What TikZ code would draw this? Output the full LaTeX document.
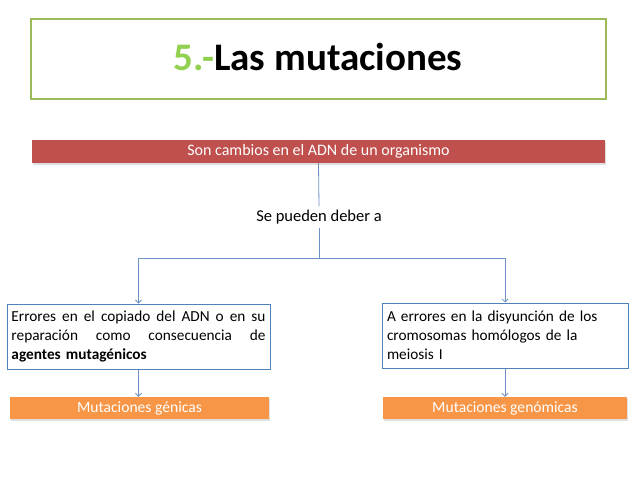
\documentclass[tikz,border=0pt]{standalone}
\usepackage{fontspec}
\setmainfont{Carlito}
\usetikzlibrary{arrows.meta, positioning, shadows}
\definecolor{titlegreen}{RGB}{155,187,89}
\definecolor{numgreen}{RGB}{146,208,80}
\definecolor{barred}{RGB}{192,80,77}
\definecolor{boxblue}{RGB}{79,129,189}
\definecolor{barorange}{RGB}{247,150,70}
\definecolor{linkblue}{RGB}{110,145,200}

\tikzset{
  redbar/.style={fill=barred, text=white, inner sep=0pt, minimum height=23pt,
    font=\fontsize{16}{19}\selectfont,
    drop shadow={opacity=0.25, shadow xshift=1pt, shadow yshift=-1.5pt}},
  orangebar/.style={fill=barorange, text=white, inner sep=0pt, minimum height=22pt,
    font=\fontsize{15.6}{19}\selectfont,
    drop shadow={opacity=0.25, shadow xshift=1pt, shadow yshift=-1.5pt}},
  causebox/.style={draw=boxblue, line width=1pt, fill=white, inner sep=0pt,
    minimum height=65pt},
  causetext/.style={align=left, font=\fontsize{15.3}{19}\selectfont},
  link/.style={draw=linkblue, line width=0.8pt}
}

\begin{document}
\begin{tikzpicture}[x=1pt, y=-1pt, >={Straight Barb[length=3pt,width=6pt]}]
    \useasboundingbox (0,0) rectangle (638,479);

    % Title
    \node[draw=titlegreen, line width=1.2pt, minimum width=575pt, minimum height=80pt,
        inner sep=0pt] (titlebox) at (318.5,59) {};
    \node[font=\fontsize{39}{42}\selectfont\bfseries] (title) at (318,57)
        {\textcolor{numgreen}{5.-}Las mutaciones};

    % Definition
    \node[redbar, minimum width=573pt] (defbar) at (318.5,151.5)
        {Son cambios en el ADN de un organismo};
    \node[font=\fontsize{16.5}{19}\selectfont] (causes) at (319,217) {Se pueden deber a};
    \coordinate (split) at (319,258);

    % Causes
    \node[causebox, minimum width=263pt] (genbox) at (138.5,336.5) {};
    \node[causetext, text width=254pt] (gentext) at (genbox.center)
        {Errores\hfill en\hfill el\hfill copiado\hfill del\hfill ADN\hfill o\hfill en\hfill su\\
        reparación\hfill como\hfill consecuencia\hfill de\\
        \textbf{agentes mutagénicos}};
    \node[causebox, minimum width=246pt] (chrbox) at (505,335.5) {};
    \node[causetext, text width=236pt] (chrtext) at (chrbox.center)
        {A errores en la disyunción de los\\cromosomas homólogos de la\\meiosis I};

    % Results
    \node[orangebar, minimum width=259pt] (genres) at (139.5,408) {Mutaciones génicas};
    \node[orangebar, minimum width=244pt] (chrres) at (505,408) {Mutaciones genómicas};

    % Connectors
    \draw[link] (defbar.south) -- (causes.north);
    \draw[link] (causes.south) -- (split);
    \draw[link, ->] (split) -| (genbox.north);
    \draw[link, ->] (split) -| (chrbox.north);
    \draw[link, ->] (genbox.south) -- (genbox.south |- genres.north);
    \draw[link, ->] (chrbox.south) -- (chrbox.south |- chrres.north);
\end{tikzpicture}
\end{document}
